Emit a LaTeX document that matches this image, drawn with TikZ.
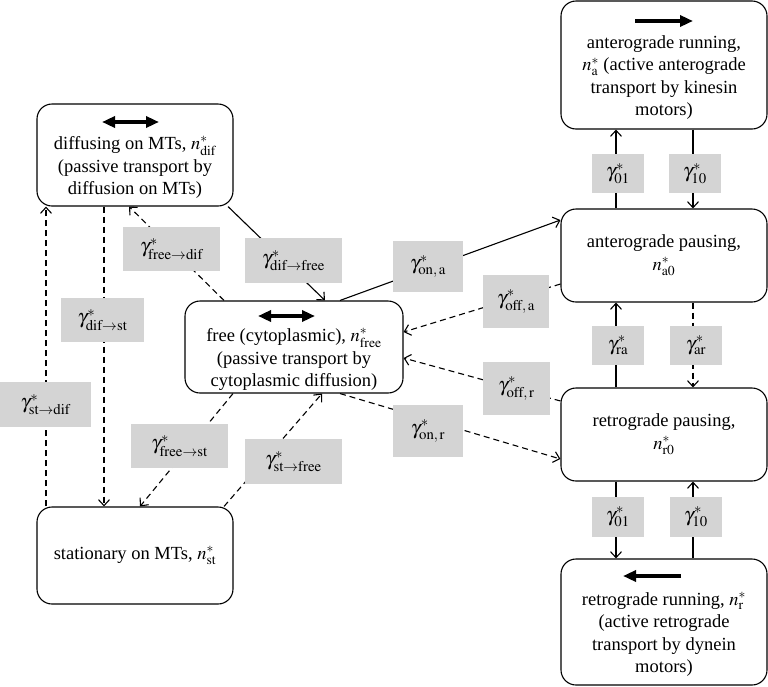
\documentclass[tikz,border=0pt]{standalone}
\usepackage{mathptmx}
\usepackage[no-math]{fontspec}
\setmainfont{Liberation Serif}
\usetikzlibrary{arrows.meta}
\definecolor{rategray}{RGB}{212,212,212}
\tikzset{
  state/.style={draw, rounded corners=15pt, line width=1.1pt, align=center, inner sep=0pt, font=\fontsize{18.5}{22.5}\selectfont},
  rate/.style={fill=rategray, inner sep=0pt, font=\fontsize{20}{24}\selectfont},
  trans/.style={line width=1.1pt, -{Straight Barb[length=6pt,width=11pt]}},
  slow/.style={trans, dash pattern=on 6pt off 4pt},
  motor/.style={line width=3.5pt},
  bigtip/.tip={Triangle[length=13pt,width=11pt]},
}
\begin{document}
\begin{tikzpicture}[x=1pt, y=-1pt]
	\useasboundingbox (0,0) rectangle (768,686);
	% states
	\node[state, minimum width=196pt, minimum height=102pt] (dif) at (135,155) {\strut\\ diffusing on MTs, $n^*_{\mathrm{dif}}$\\ (passive transport by\\ diffusion on MTs)};
	\node[state, minimum width=196pt, minimum height=97pt] (st) at (135,555.5) {stationary on MTs, $n^*_{\mathrm{st}}$};
	\node[state, minimum width=218pt, minimum height=92pt] (free) at (294,347) {\strut\\ free (cytoplasmic), $n^*_{\mathrm{free}}$\\ (passive transport by\\ cytoplasmic diffusion)};
	\node[state, minimum width=206pt, minimum height=128pt] (arun) at (664,65) {\strut\\ anterograde running,\\ $n^*_{\mathrm{a}}$ (active anterograde\\ transport by kinesin\\ motors)};
	\node[state, minimum width=206pt, minimum height=93pt] (apau) at (664,255.5) {anterograde pausing,\\ $n^*_{\mathrm{a0}}$};
	\node[state, minimum width=206pt, minimum height=93pt] (rpau) at (664,434.5) {retrograde pausing,\\ $n^*_{\mathrm{r0}}$};
	\node[state, minimum width=206pt, minimum height=126pt] (rrun) at (664,622) {\strut\\ retrograde running, $n^*_{\mathrm{r}}$\\ (active retrograde\\ transport by dynein\\ motors)};
	% motion symbols
	\draw[motor, bigtip-bigtip] (102,122) -- (159,122);
	\draw[motor, bigtip-bigtip] (258,316) -- (315,316);
	\draw[motor, -bigtip] (635,21) -- (693,21);
	\draw[motor, -bigtip] (681,576) -- (623,576);
	% transitions on the left
	\draw[slow] ([xshift=-31pt]dif.south) -- ([xshift=-31pt]st.north);
	\draw[slow] ([xshift=-89pt]st.north) -- ([xshift=-89pt]dif.south);
	\draw[slow] ([xshift=-70pt]free.north) -- ([xshift=-6pt]dif.south);
	\draw[trans] (dif.-29) -- ([xshift=31pt]free.north);
	\draw[slow] ([xshift=-61pt]free.south) -- ([xshift=5pt]st.north);
	\draw[slow] ([xshift=89pt]st.north) -- ([xshift=28pt]free.south);
	% transitions to the motor states
	\draw[trans] ([xshift=46pt]free.north) -- ([yshift=35.5pt]apau.west);
	\draw[slow] ([yshift=-28.5pt]apau.west) -- ([yshift=15pt]free.east);
	\draw[slow] ([yshift=33.5pt]rpau.west) -- ([yshift=-11pt]free.east);
	\draw[slow] ([xshift=46pt]free.south) -- ([yshift=-24.5pt]rpau.west);
	\draw[trans] ([xshift=-48pt]apau.north) -- ([xshift=-48pt]arun.south);
	\draw[trans] ([xshift=29pt]arun.south) -- ([xshift=29pt]apau.north);
	\draw[trans] ([xshift=-48pt]rpau.north) -- ([xshift=-48pt]apau.south);
	\draw[slow] ([xshift=29pt]apau.south) -- ([xshift=29pt]rpau.north);
	\draw[trans] ([xshift=-48pt]rpau.south) -- ([xshift=-48pt]rrun.north);
	\draw[trans] ([xshift=29pt]rrun.north) -- ([xshift=29pt]rpau.south);
	% rate constants
	\node[rate, minimum width=97pt, minimum height=44pt] (gfd) at (171.5,249) {$\gamma^*_{\mathrm{free}\rightarrow\mathrm{dif}}$};
	\node[rate, minimum width=97pt, minimum height=45pt] (gdf) at (293.5,260.5) {$\gamma^*_{\mathrm{dif}\rightarrow\mathrm{free}}$};
	\node[rate, minimum width=83pt, minimum height=44pt] (gds) at (102.5,320) {$\gamma^*_{\mathrm{dif}\rightarrow\mathrm{st}}$};
	\node[rate, minimum width=91pt, minimum height=45pt] (gsd) at (45.5,404.5) {$\gamma^*_{\mathrm{st}\rightarrow\mathrm{dif}}$};
	\node[rate, minimum width=97pt, minimum height=44pt] (gfs) at (179.5,446) {$\gamma^*_{\mathrm{free}\rightarrow\mathrm{st}}$};
	\node[rate, minimum width=97pt, minimum height=45pt] (gsf) at (293.5,461.5) {$\gamma^*_{\mathrm{st}\rightarrow\mathrm{free}}$};
	\node[rate, minimum width=70pt, minimum height=51pt] (gona) at (428,266.5) {$\gamma^*_{\mathrm{on,\,a}}$};
	\node[rate, minimum width=66pt, minimum height=53pt] (goffa) at (516,301.5) {$\gamma^*_{\mathrm{off,\,a}}$};
	\node[rate, minimum width=67pt, minimum height=53pt] (goffr) at (516.5,388.5) {$\gamma^*_{\mathrm{off,\,r}}$};
	\node[rate, minimum width=70pt, minimum height=52pt] (gonr) at (428,431) {$\gamma^*_{\mathrm{on,\,r}}$};
	\node[rate, minimum width=52pt, minimum height=39pt] (gza) at (618,173.5) {$\gamma^*_{01}$};
	\node[rate, minimum width=52pt, minimum height=39pt] (gtena) at (695,173.5) {$\gamma^*_{10}$};
	\node[rate, minimum width=52pt, minimum height=39pt] (gra) at (618,345.5) {$\gamma^*_{\mathrm{ra}}$};
	\node[rate, minimum width=52pt, minimum height=39pt] (gar) at (696,345.5) {$\gamma^*_{\mathrm{ar}}$};
	\node[rate, minimum width=52pt, minimum height=40pt] (gzr) at (618,517) {$\gamma^*_{01}$};
	\node[rate, minimum width=52pt, minimum height=40pt] (gtenr) at (696,517) {$\gamma^*_{10}$};
\end{tikzpicture}
\end{document}
